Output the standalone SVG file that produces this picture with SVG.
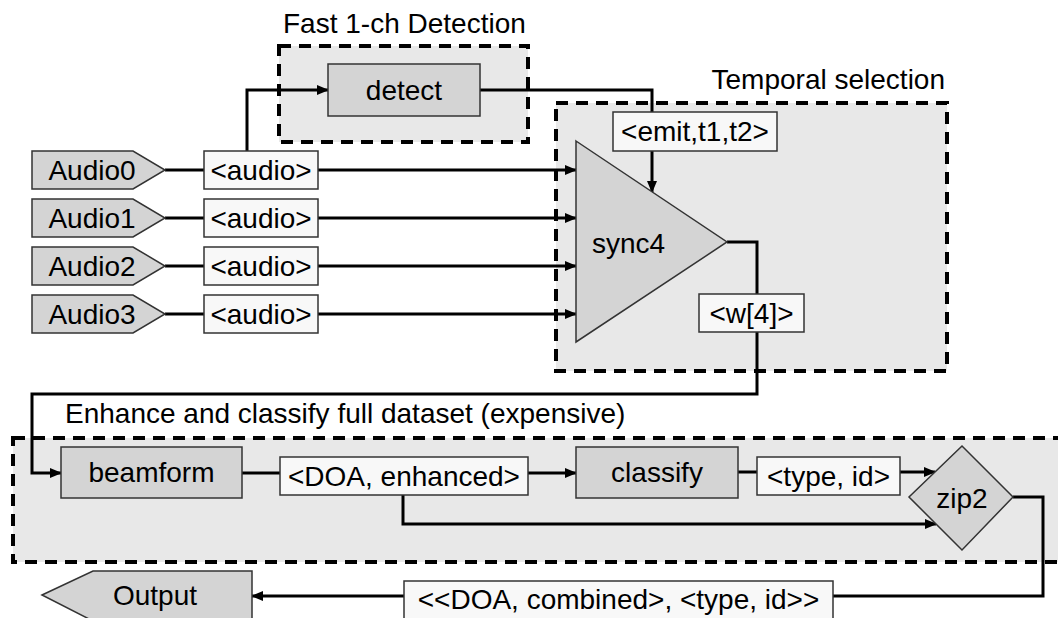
<svg xmlns="http://www.w3.org/2000/svg" width="1058" height="618" viewBox="0 0 1058 618">
  <style>
    text { font-family: "Liberation Sans", Arial, sans-serif; font-size: 28px; fill: #000; }
    .mid { text-anchor: middle; }
    .group { fill: #e8e8e8; stroke: #000; stroke-width: 4; stroke-dasharray: 12 8; }
    .node { fill: #d4d4d4; stroke: #333; stroke-width: 1.5; }
    .label { fill: #f8f8f8; stroke: #333; stroke-width: 1.5; }
    .wire { fill: none; stroke: #000; stroke-width: 3; }
    .arrow { marker-end: url(#head); }
  </style>
  <defs>
    <marker id="head" markerUnits="userSpaceOnUse" markerWidth="12" markerHeight="10" refX="11" refY="5" orient="auto">
      <path d="M0,0 L12,5 L0,10 z" fill="#000"/>
    </marker>
  </defs>
  <rect width="1058" height="618" fill="#fff"/>

  <!-- group frames -->
  <g id="grp-detection">
    <rect class="group" x="279" y="46" width="249" height="96"/>
    <text x="283" y="33">Fast 1-ch Detection</text>
  </g>
  <g id="grp-temporal">
    <rect class="group" x="556" y="103" width="391" height="268"/>
    <text x="945" y="89" text-anchor="end">Temporal selection</text>
  </g>
  <g id="grp-enhance">
    <rect class="group" x="13" y="438" width="1060" height="124"/>
    <text x="65" y="423">Enhance and classify full dataset (expensive)</text>
  </g>

  <!-- connectors -->
  <g id="connectors">
    <path class="wire" d="M165,170 H204"/>
    <path class="wire" d="M165,218 H204"/>
    <path class="wire" d="M165,266 H204"/>
    <path class="wire" d="M165,314 H204"/>
    <path class="wire arrow" d="M318,170 H576"/>
    <path class="wire arrow" d="M318,218 H576"/>
    <path class="wire arrow" d="M318,266 H576"/>
    <path class="wire arrow" d="M318,314 H576"/>
    <path class="wire arrow" d="M247,151 V90 H328"/>
    <path class="wire" d="M480,90 H652 V112"/>
    <path class="wire arrow" d="M652,151 V192"/>
    <path class="wire" d="M727,242 H757 V294"/>
    <path class="wire arrow" d="M757,332 V394 H32 V473 H61"/>
    <path class="wire" d="M242,473 H280"/>
    <path class="wire arrow" d="M528,473 H576"/>
    <path class="wire arrow" d="M403,495 V524 H936"/>
    <path class="wire" d="M738,472 H757"/>
    <path class="wire arrow" d="M900,472 H935"/>
    <path class="wire" d="M1013,497 H1043 V596 H833"/>
    <path class="wire arrow" d="M404,596 H252"/>
  </g>

  <!-- sources -->
  <g id="audio0">
    <path class="node" d="M32,151 H133 L165,170 L133,189 H32 Z"/>
    <text class="mid" x="92" y="180">Audio0</text>
  </g>
  <g id="audio1">
    <path class="node" d="M32,199 H133 L165,218 L133,237 H32 Z"/>
    <text class="mid" x="92" y="228">Audio1</text>
  </g>
  <g id="audio2">
    <path class="node" d="M32,247 H133 L165,266 L133,285 H32 Z"/>
    <text class="mid" x="92" y="276">Audio2</text>
  </g>
  <g id="audio3">
    <path class="node" d="M32,295 H133 L165,314 L133,333 H32 Z"/>
    <text class="mid" x="92" y="324">Audio3</text>
  </g>

  <!-- stream type labels -->
  <g id="lbl-audio0">
    <rect class="label" x="204" y="151" width="114" height="38"/>
    <text class="mid" x="261" y="180">&lt;audio&gt;</text>
  </g>
  <g id="lbl-audio1">
    <rect class="label" x="204" y="199" width="114" height="38"/>
    <text class="mid" x="261" y="228">&lt;audio&gt;</text>
  </g>
  <g id="lbl-audio2">
    <rect class="label" x="204" y="247" width="114" height="38"/>
    <text class="mid" x="261" y="276">&lt;audio&gt;</text>
  </g>
  <g id="lbl-audio3">
    <rect class="label" x="204" y="295" width="114" height="38"/>
    <text class="mid" x="261" y="324">&lt;audio&gt;</text>
  </g>

  <!-- processing nodes -->
  <g id="detect">
    <rect class="node" x="328" y="64" width="152" height="52"/>
    <text class="mid" x="404" y="100">detect</text>
  </g>
  <g id="lbl-emit">
    <rect class="label" x="613" y="112" width="164" height="39"/>
    <text class="mid" x="695" y="141">&lt;emit,t1,t2&gt;</text>
  </g>
  <g id="sync4">
    <path class="node" d="M576,141 L727,242 L576,342 Z"/>
    <text x="592" y="253">sync4</text>
  </g>
  <g id="lbl-w4">
    <rect class="label" x="699" y="294" width="105" height="38"/>
    <text class="mid" x="751.5" y="323">&lt;w[4]&gt;</text>
  </g>
  <g id="beamform">
    <rect class="node" x="61" y="447" width="181" height="51"/>
    <text class="mid" x="151.5" y="482">beamform</text>
  </g>
  <g id="lbl-doa">
    <rect class="label" x="280" y="457" width="248" height="38"/>
    <text class="mid" x="404" y="486">&lt;DOA, enhanced&gt;</text>
  </g>
  <g id="classify">
    <rect class="node" x="576" y="447" width="162" height="51"/>
    <text class="mid" x="657" y="482">classify</text>
  </g>
  <g id="lbl-type">
    <rect class="label" x="757" y="457" width="143" height="38"/>
    <text class="mid" x="828.5" y="486">&lt;type, id&gt;</text>
  </g>
  <g id="zip2">
    <path class="node" d="M962,446 L1013,497 L962,550 L909,497 Z"/>
    <text class="mid" x="962" y="508">zip2</text>
  </g>
  <g id="lbl-combined">
    <rect class="label" x="404" y="581" width="429" height="40"/>
    <text class="mid" x="618.5" y="609">&lt;&lt;DOA, combined&gt;, &lt;type, id&gt;&gt;</text>
  </g>
  <g id="output">
    <path class="node" d="M42,595 L93,571 H252 V621 H93 Z"/>
    <text class="mid" x="155" y="605">Output</text>
  </g>
</svg>
